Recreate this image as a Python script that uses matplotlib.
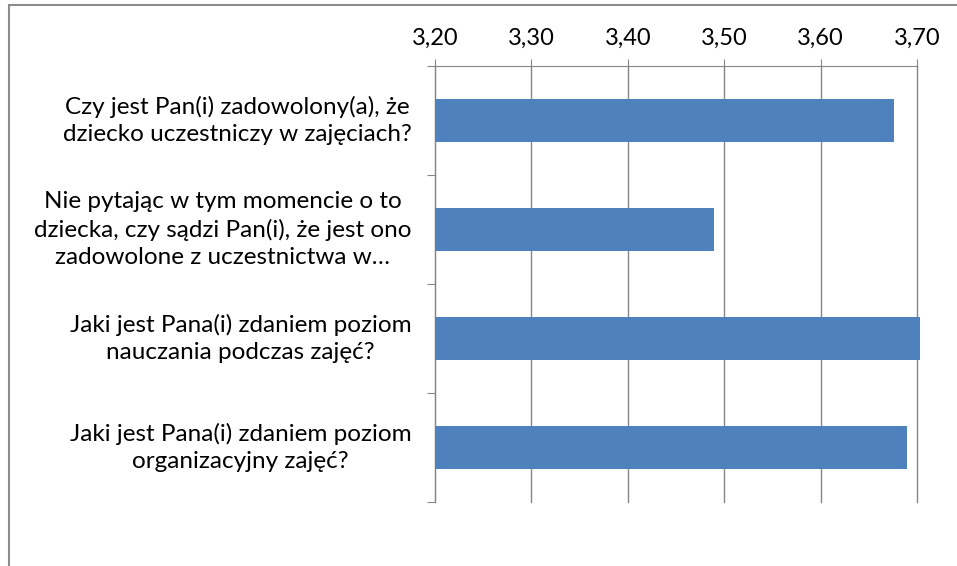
import matplotlib.pyplot as plt
import matplotlib.transforms as mtransforms
from matplotlib.patches import Rectangle

# survey questions (top to bottom) and mean scores
questions = ['Czy jest Pan(i) zadowolony(a), że\ndziecko uczestniczy w zajęciach?',
             'Nie pytając w tym momencie o to\ndziecka, czy sądzi Pan(i), że jest ono\nzadowolone z uczestnictwa w…',
             'Jaki jest Pana(i) zdaniem poziom\nnauczania podczas zajęć?',
             'Jaki jest Pana(i) zdaniem poziom\norganizacyjny zajęć?']
scores = [3.676, 3.489, 3.703, 3.690]
x_min, x_max = 3.20, 3.70
x_ticks = [3.20, 3.30, 3.40, 3.50, 3.60, 3.70]
x_labels = ['3,20', '3,30', '3,40', '3,50', '3,60', '3,70']

plt.rcParams['font.family'] = ['Lato', 'DejaVu Sans']

fig = plt.figure(figsize=(9.57, 5.66), dpi=100)
ax = fig.add_axes([435 / 957, 1 - 502 / 566, 482 / 957, 436 / 566])

pos = list(range(len(questions)))
# bars start at the axis minimum, like in the spreadsheet chart
bars = ax.barh(pos, [s - x_min for s in scores], left=x_min, height=0.4,
               color='#4F81BD', zorder=3)
for b in bars:
    b.set_clip_on(False)

ax.set_xlim(x_min, x_max)
ax.set_ylim(len(questions) - 0.5, -0.5)

# x axis on top
ax.xaxis.tick_top()
ax.set_xticks(x_ticks)
ax.set_xticklabels(x_labels, fontsize=17)
ax.tick_params(axis='x', length=5, color='#868686', pad=7)
ax.grid(axis='x', color='#868686', linewidth=1, zorder=0)
for gl in ax.get_xgridlines():
    gl.set_clip_on(False)

# category ticks between bars, labels drawn as centred text blocks
ax.set_yticks([p - 0.5 for p in pos] + [len(questions) - 0.5])
ax.set_yticklabels([])
ax.tick_params(axis='y', which='major', length=6, color='#868686')
trans = mtransforms.blended_transform_factory(ax.transAxes, ax.transData)
for p, q in zip(pos, questions):
    ax.text(-0.049, p, q, transform=trans, ha='right', va='center',
            multialignment='center', linespacing=1.35, fontsize=17.5)

for side in ['right', 'bottom']:
    ax.spines[side].set_visible(False)
ax.spines['top'].set_color('#868686')
ax.spines['left'].set_color('#868686')

# outer chart border (cropped at right and bottom)
fig.patches.append(Rectangle((9 / 957, -0.5), 1.5, 1.5 - 5 / 566, transform=fig.transFigure,
                             fill=False, edgecolor='#8c8c8c', linewidth=1.5))

fig.savefig('out.png', dpi=100)
